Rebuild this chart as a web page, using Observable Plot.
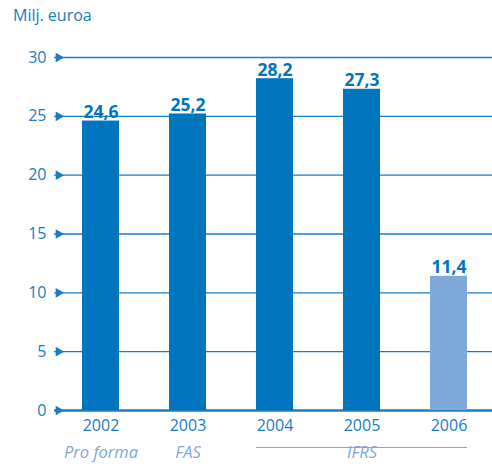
<!DOCTYPE html>
<html><head><meta charset="utf-8">
<script src="https://cdn.jsdelivr.net/npm/d3@7"></script>
<script src="https://cdn.jsdelivr.net/npm/@observablehq/plot@0.6"></script>
<style>
body{margin:0;background:#fff;}
#wrap{position:relative;width:492px;height:466px;font-family:"Open Sans",sans-serif;}
#title{position:absolute;left:13px;top:4px;font-size:16px;color:#1a7cc1;z-index:2;}
#chart{position:absolute;left:0;top:0;}
</style></head>
<body><div id="wrap"><div id="title">Milj. euroa</div><div id="chart"></div></div>
<script>
const years = ["2002","2003","2004","2005","2006"];
const values = [24.6, 25.2, 28.2, 27.3, 11.4];
const valueLabels = ["24,6","25,2","28,2","27,3","11,4"];
const forecast = [false,false,false,false,true];
const yTicks = [0,5,10,15,20,25,30];
const standards = [{year:"2002", label:"Pro forma"},{year:"2003", label:"FAS"},{year:"2005", label:"IFRS"}];
const ifrsSpan = [{from:"2004", to:"2006"}];

const data = years.map((y,i)=>({year:y, value:values[i], label:valueLabels[i], light:forecast[i]}));
const dark = "#0075be", light = "#7fa9d8", grid = "#1a7cc1";

const chart = Plot.plot({
  width: 492, height: 466,
  marginTop: 57, marginBottom: 56, marginLeft: 54, marginRight: 0,
  style: {fontFamily: '"Open Sans", sans-serif', overflow: "visible"},
  x: {domain: years, range: [63.5, 485.5], paddingInner: 0.577, paddingOuter: 0.2, label: null},
  y: {domain: [0, 30], label: null},
  marks: [
    Plot.ruleY(yTicks.filter(t=>t>0), {stroke: grid, strokeWidth: 1.3}),
    Plot.ruleY([0], {stroke: grid, strokeWidth: 2.5}),
    Plot.dot(yTicks, {y: d=>d, frameAnchor: "left", dx: 4, symbol: "triangle", rotate: 90, r: 3.6, fill: grid, stroke: "none"}),
    Plot.barY(data, {x: "year", y: "value", fill: d=>d.light ? light : dark}),
    Plot.text(data, {x: "year", y: "value", text: "label", lineAnchor: "bottom", dy: -3, fontSize: 17.5, fontWeight: "bold", fill: dark}),
    Plot.axisY(yTicks, {tickSize: 0, tickPadding: 8, fontSize: 16, fill: grid, label: null, tickFormat: d=>String(d)}),
    Plot.axisX({tickSize: 0, tickPadding: 9, fontSize: 16, fill: grid, label: null}),
    Plot.text(standards, {x: "year", text: "label", frameAnchor: "bottom", dy: 47, fontSize: 16.5, fontStyle: "italic", fill: light}),
    Plot.ruleY(ifrsSpan, {x1: "from", x2: "to", y: ()=>0, dy: 37, stroke: light, strokeWidth: 1.2})
  ]
});
document.getElementById("chart").appendChild(chart);
</script></body></html>
